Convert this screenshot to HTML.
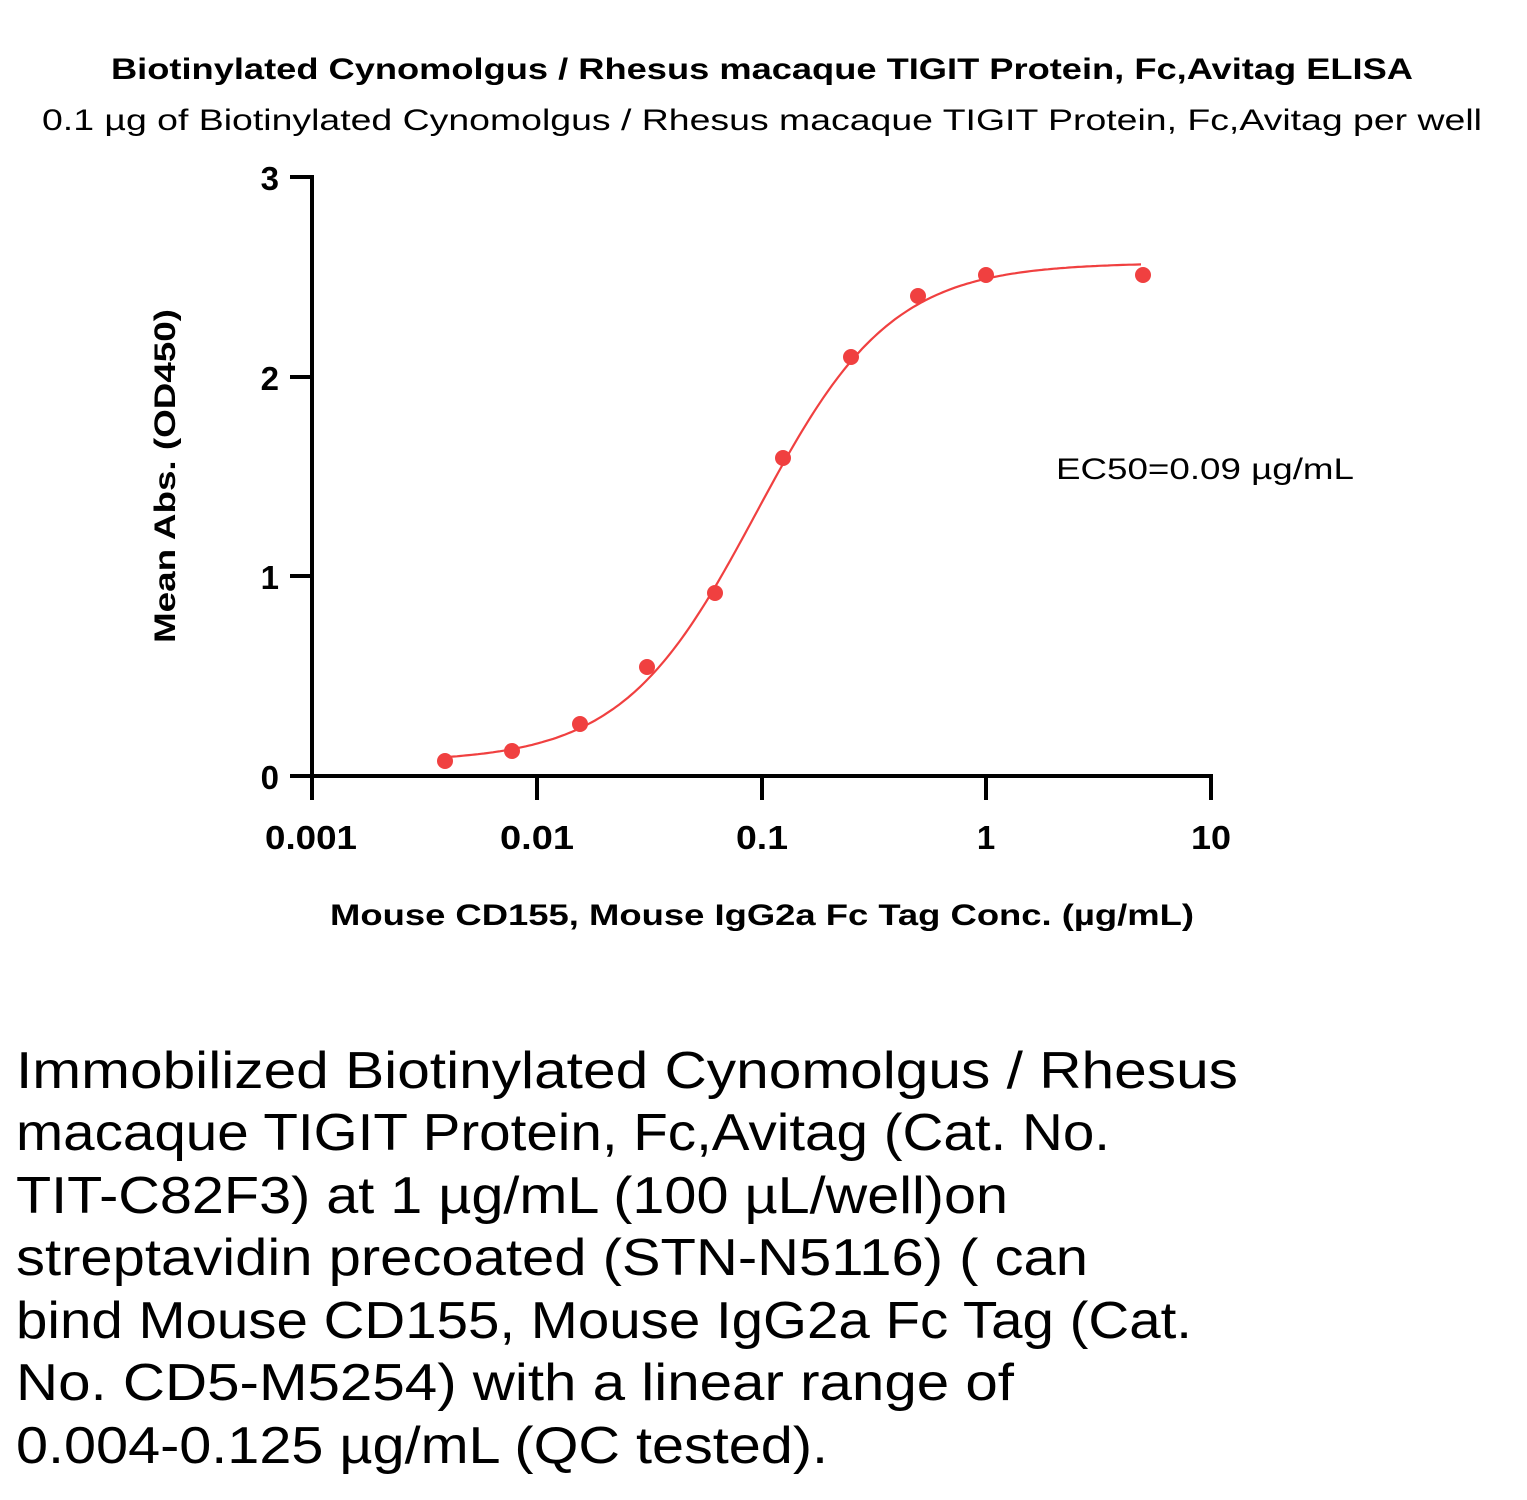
<!DOCTYPE html>
<html><head><meta charset="utf-8"><style>
html,body{margin:0;padding:0;background:#fff;}
svg{display:block;font-family:"Liberation Sans",sans-serif;}
</style></head><body>
<svg width="1527" height="1500" viewBox="0 0 1527 1500" xmlns="http://www.w3.org/2000/svg">
<text x="762" y="79" text-anchor="middle" font-size="30" font-weight="bold" textLength="1302" lengthAdjust="spacingAndGlyphs">Biotinylated Cynomolgus / Rhesus macaque TIGIT Protein, Fc,Avitag ELISA</text>
<text x="762" y="130" text-anchor="middle" font-size="30" textLength="1440" lengthAdjust="spacingAndGlyphs">0.1 µg of Biotinylated Cynomolgus / Rhesus macaque TIGIT Protein, Fc,Avitag per well</text>
<g stroke="#000" stroke-width="4" fill="none">
<line x1="312" y1="175" x2="312" y2="778"/>
<line x1="310" y1="776" x2="1213" y2="776"/>
<line x1="290" y1="177" x2="312" y2="177"/>
<line x1="290" y1="377" x2="312" y2="377"/>
<line x1="290" y1="576" x2="312" y2="576"/>
<line x1="290" y1="776" x2="312" y2="776"/>
<line x1="312" y1="776" x2="312" y2="800"/>
<line x1="537" y1="776" x2="537" y2="800"/>
<line x1="762" y1="776" x2="762" y2="800"/>
<line x1="986" y1="776" x2="986" y2="800"/>
<line x1="1211" y1="776" x2="1211" y2="800"/>
</g>
<g font-size="33" font-weight="bold" text-anchor="end">
<text x="279" y="190">3</text><text x="279" y="390">2</text><text x="279" y="589">1</text><text x="279" y="789">0</text>
</g>
<g font-size="33" font-weight="bold" text-anchor="middle">
<text x="311" y="849" textLength="92" lengthAdjust="spacingAndGlyphs">0.001</text>
<text x="537" y="849" textLength="74" lengthAdjust="spacingAndGlyphs">0.01</text>
<text x="762" y="849" textLength="52" lengthAdjust="spacingAndGlyphs">0.1</text>
<text x="986" y="849">1</text>
<text x="1211" y="849" textLength="40" lengthAdjust="spacingAndGlyphs">10</text>
</g>
<text x="762" y="925" text-anchor="middle" font-size="30" font-weight="bold" textLength="864" lengthAdjust="spacingAndGlyphs">Mouse CD155, Mouse IgG2a Fc Tag Conc. (µg/mL)</text>
<text transform="translate(175,476) rotate(-90)" text-anchor="middle" font-size="30" font-weight="bold" textLength="334" lengthAdjust="spacingAndGlyphs">Mean Abs. (OD450)</text>
<text x="1056" y="479" font-size="30" textLength="298" lengthAdjust="spacingAndGlyphs">EC50=0.09 µg/mL</text>
<path id="curve" fill="none" stroke="#f04040" stroke-width="2.2" d=""/>
<g fill="#f04040">
<circle cx="445" cy="761" r="8"/><circle cx="512" cy="751" r="8"/><circle cx="580" cy="724" r="8"/>
<circle cx="647" cy="667" r="8"/><circle cx="715" cy="593" r="8"/><circle cx="783" cy="458" r="8"/>
<circle cx="851" cy="357" r="8"/><circle cx="918" cy="296" r="8"/><circle cx="986" cy="275" r="8"/>
<circle cx="1143" cy="275" r="8"/>
</g>
<g font-size="52">
<text x="16" y="1088" textLength="1222" lengthAdjust="spacingAndGlyphs">Immobilized Biotinylated Cynomolgus / Rhesus</text>
<text x="16" y="1150" textLength="1094" lengthAdjust="spacingAndGlyphs">macaque TIGIT Protein, Fc,Avitag (Cat. No.</text>
<text x="16" y="1213" textLength="992" lengthAdjust="spacingAndGlyphs">TIT-C82F3) at 1 µg/mL (100 µL/well)on</text>
<text x="16" y="1275" textLength="1072" lengthAdjust="spacingAndGlyphs">streptavidin precoated (STN-N5116) ( can</text>
<text x="16" y="1338" textLength="1176" lengthAdjust="spacingAndGlyphs">bind Mouse CD155, Mouse IgG2a Fc Tag (Cat.</text>
<text x="16" y="1400" textLength="998" lengthAdjust="spacingAndGlyphs">No. CD5-M5254) with a linear range of</text>
<text x="16" y="1463" textLength="812" lengthAdjust="spacingAndGlyphs">0.004-0.125 µg/mL (QC tested).</text>
</g>
</svg>
<script>
(function(){
var b=0.07,t=2.57,ec=0.095,h=1.45,d="";
for(var px=445;px<=1143;px+=3){
var x=Math.pow(10,(px-312)/224.75-3);
var y=b+(t-b)/(1+Math.pow(ec/x,h));
var py=776-y*199.7;
d+=(d?"L":"M")+px+","+py.toFixed(1);
}
document.getElementById("curve").setAttribute("d",d);
})();
</script>
</body></html>
